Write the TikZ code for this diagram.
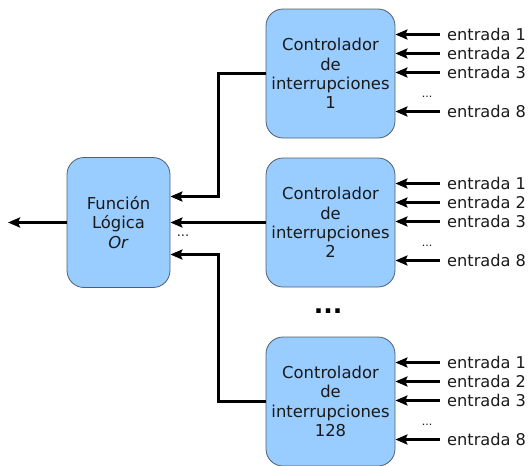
\documentclass[tikz,border=0pt]{standalone}
\usepackage{fontspec}
\setmainfont{DejaVu Sans}
\usetikzlibrary{arrows.meta}
\definecolor{boxblue}{HTML}{99CCFF}
\definecolor{boxline}{HTML}{4D5F70}
\definecolor{txt}{HTML}{1A1A1A}
\tikzset{
  block/.style={draw=boxline, line width=0.8pt, fill=boxblue, rounded corners=17pt,
    align=center, text=txt, font=\fontsize{16.4}{19.4}\selectfont, inner sep=0pt},
  ctrl/.style={block, minimum width=129pt, minimum height=129pt},
  func/.style={block, minimum width=103pt, minimum height=130pt},
  arr/.style={line width=3pt, -{Stealth[length=12pt,width=10pt,inset=2pt]}},
  inlabel/.style={anchor=west, inner xsep=7pt, inner ysep=0pt, text=txt, font=\fontsize{16.2}{19}\selectfont},
  smalldots/.style={font=\fontsize{11}{12}\selectfont, inner sep=0pt, text=txt},
  middots/.style={font=\fontsize{13}{14}\selectfont, inner sep=0pt, text=txt},
  bigdots/.style={font=\fontsize{25}{30}\selectfont\bfseries, inner sep=0pt},
}
\begin{document}
\begin{tikzpicture}[x=1pt,y=-1pt]
\useasboundingbox (0,0) rectangle (528,466);

\node[func] (f) at (118.5,222.5) {Función\\Lógica\\\textit{Or}};

\foreach \n/\cy/\lab in {c1/73.5/1, c2/222.5/2, c3/401.5/128} {
  \node[ctrl] (\n) at (330.5,\cy) {Controlador\\de\\interrupciones\\\lab};
  \foreach \k/\dy in {1/-39, 2/-20, 3/-1, 8/38} {
    \node[inlabel] (\n-\k) at (440,\cy+\dy) {entrada \k};
    \draw[arr] (\n-\k.west) -- (\n-\k.west -| \n.east);
  }
  \node[smalldots] (\n-d) at (427,\cy+23) {...};
}

\node[bigdots] (vd) at (328,311) {...};
\node[middots] (fd) at (183,236) {...};

\coordinate (j1) at (218.5,196.5);
\coordinate (j3) at (218.5,254.5);
\coordinate (out) at (8,222.5);

\draw[arr] (c1.west) -| (j1) -- (j1 -| f.east);
\draw[arr] (c2.west) -- (f.east);
\draw[arr] (c3.west) -| (j3) -- (j3 -| f.east);
\draw[arr] (f.west) -- (out);
\end{tikzpicture}
\end{document}
